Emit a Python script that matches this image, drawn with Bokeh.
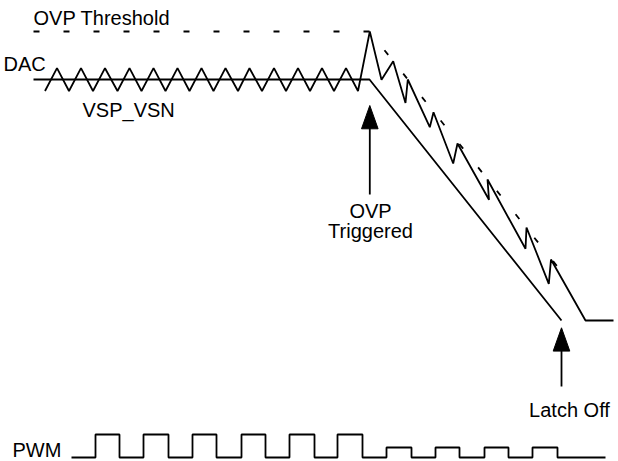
from bokeh.plotting import figure
from bokeh.models import Range1d
from bokeh.core.properties import value
from bokeh.embed import file_html
from bokeh.resources import INLINE

# ---- data (diagram coordinates, y grows downward) ----
threshold_x = [33, 369, 560]
threshold_y = [31, 31, 270]

dac_x = [33, 369, 561]
dac_y = [79, 79, 320]

vsp_x = [44.5, 56.5, 68.5, 80.5, 92.5, 104.5, 117, 129, 141, 153, 165, 177,
         189, 201, 213, 225, 237.5, 249, 261.5, 273.5, 285.5, 297.5, 309.5,
         321.5, 333.5, 345.5, 357.5,
         369.3, 381, 392.7, 405, 407.3, 429.3, 433, 452.7, 457, 488.5, 487,
         525, 526, 548.3, 550.5, 585, 613]
vsp_y = [90.5, 67.7, 90.5, 67.7, 90.5, 67.7, 90.5, 67.7, 90.5, 67.7, 90.5, 67.7,
         90.5, 67.7, 90.5, 67.7, 90.5, 67.7, 90.5, 67.7, 90.5, 67.7, 90.5,
         67.7, 90.5, 67.7, 90.5,
         31, 79.3, 60.7, 102.5, 79, 126.7, 111.7, 163, 143, 199.3, 179,
         248.3, 227, 283.3, 259, 320, 320]

pwm_edges = [71, 95, 119, 143, 168, 192, 216, 241, 265, 289, 314, 337, 362,
             386, 411, 435, 459, 484, 508, 532, 557, 605]
pwm_levels = [457, 434, 457, 434, 457, 434, 457, 434, 457, 434, 457, 434, 457,
              447, 457, 447, 457, 447, 457, 447, 457, 457]

arrow_tips_x = [369.3, 561]
arrow_tips_y = [105, 327.3]
arrow_tails_y = [194, 386]

labels = ["OVP Threshold", "DAC", "VSP_VSN", "OVP", "Triggered", "Latch Off", "PWM"]
label_x = [33, 3, 82, 370, 370, 569, 12]
label_y = [24, 70, 116.7, 217.3, 237.3, 416, 456]
label_align = ["left", "left", "left", "center", "center", "center", "left"]

TEXT_SHIFT = -7  # renderer baseline offset correction (style)

# ---- figure ----
p = figure(width=618, height=461, x_range=Range1d(0, 618), y_range=Range1d(461, 0),
           output_backend="svg", toolbar_location=None, min_border=0,
           x_axis_type=None, y_axis_type=None)
p.grid.visible = False
p.outline_line_color = None
p.background_fill_color = "white"
p.border_fill_color = "white"

LW = 1.8
p.line(threshold_x, threshold_y, line_color="black", line_width=LW, line_dash="6 24")
p.line(dac_x, dac_y, line_color="black", line_width=LW)
p.line(vsp_x, vsp_y, line_color="black", line_width=LW)

# PWM step trace built from edges and levels
px, py = [pwm_edges[0]], [pwm_levels[0]]
for i in range(1, len(pwm_edges)):
    px.append(pwm_edges[i]); py.append(pwm_levels[i - 1])
    px.append(pwm_edges[i]); py.append(pwm_levels[i])
p.line(px, py, line_color="black", line_width=LW)

# arrows
HEAD_LEN, HEAD_HALF = 23.3, 8.3
for tx, ty, tail in zip(arrow_tips_x, arrow_tips_y, arrow_tails_y):
    p.line([tx, tx], [ty + HEAD_LEN - 2, tail], line_color="black", line_width=LW)
    p.patch([tx, tx - HEAD_HALF, tx + HEAD_HALF], [ty, ty + HEAD_LEN, ty + HEAD_LEN],
            fill_color="black", line_color="black", line_width=1)

# labels
for t, x, y, a in zip(labels, label_x, label_y, label_align):
    p.text(x=[x], y=[y + TEXT_SHIFT], text=[t], text_align=a, text_baseline="alphabetic",
           text_font=value("Liberation Sans"), text_font_size="20px", text_color="black")

open("out.html", "w").write(file_html(p, INLINE))
